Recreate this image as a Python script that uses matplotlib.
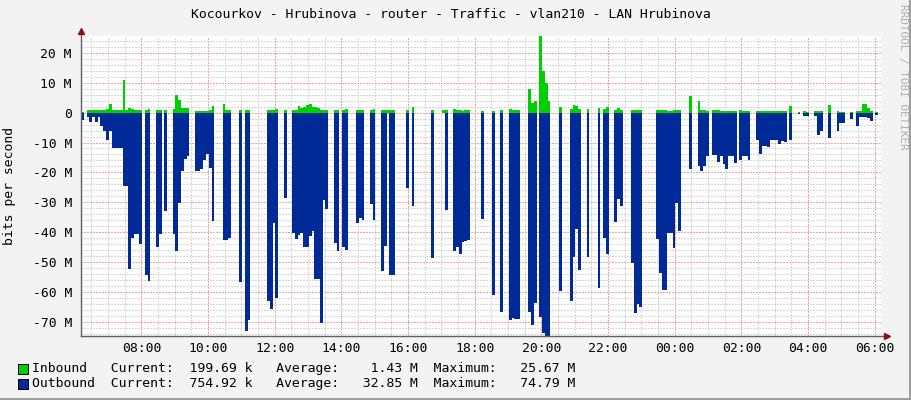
import numpy as np
import matplotlib
matplotlib.use("Agg")
import matplotlib.pyplot as plt
from matplotlib.patches import Rectangle
from matplotlib.lines import Line2D

# 5 minute samples, in Mbit/s, graph starts ~06:11 and covers 24 h
start_hour = 6.19
step_hours = 5 / 60.0

inbound = [
    0.2, None, 0.8, 0.8, 0.8, 0.8, 0.8, 0.8, 0.8, 1.2, 3.0, 1.0,
    1.0, 0.8, 0.8, 10.8, 1.0, 1.5, 1.2, 1.0, 1.0, 1.0, None, 1.0,
    1.3, None, None, 1.0, 1.0, None, 1.0, None, None, 1.3, 5.8, 4.1,
    1.6, 1.6, 1.6, None, None, 0.6, 0.6, 0.6, 0.4, 0.4, 1.0, 2.3,
    None, None, None, 3.0, 1.0, 1.0, None, None, None, 1.0, None, 1.0,
    1.0, None, None, None, None, None, None, 1.0, 1.0, 1.0, 1.3, None,
    None, 1.0, None, None, 1.0, 1.0, 2.3, 1.6, 2.0, 2.5, 3.0, 2.0,
    1.8, 1.5, 0.8, 0.8, 0.8, None, None, 1.0, 1.0, None, 1.0, 1.3,
    None, None, None, 1.0, 1.0, 1.0, None, None, 1.0, 1.3, None, None,
    1.0, 1.0, 1.0, 1.0, 1.0, None, None, None, None, 1.0, None, 2.0,
    None, None, None, None, None, None, 1.0, None, None, None, 1.0, 1.0,
    None, None, 1.3, 1.0, 1.0, 0.7, 1.0, 1.0, None, None, None, None,
    0.7, None, None, None, 0.7, None, None, 1.0, None, None, 1.3, 1.0,
    1.0, 1.0, None, None, None, 8.0, 3.4, 4.0, None, 25.67, 14.1, 10.0,
    4.0, None, None, None, 1.8, None, None, None, 1.3, 2.6, 2.2, 1.3,
    None, None, 1.3, None, None, None, 1.5, None, 1.3, 1.9, None, None,
    1.0, 1.6, 1.0, None, None, None, 1.0, 1.0, 1.0, 1.0, None, None,
    None, None, None, 1.0, 1.0, 1.0, 1.0, 0.7, 0.7, 1.0, 0.8, 0.8,
    None, None, None, 5.5, None, None, 4.0, 1.0, 0.8, 0.6, None, 0.8,
    0.8, 0.8, 0.5, 0.5, 0.5, 0.5, 0.5, 0.5, None, 0.8, 0.5, 0.5,
    0.5, None, None, 0.5, 0.5, 0.5, 0.5, 0.5, 0.5, 0.5, 0.5, 0.5,
    0.5, 0.5, None, 2.3, None, None, 0.2, None, 0.7, 0.3, None, None,
    0.5, 0.5, 0.5, None, None, 2.7, None, None, 0.4, 0.2, 0.2, None,
    None, 0.1, None, 0.5, 0.5, 3.0, 3.0, 1.5, 0.5, None, 0.2, None,
]

outbound = [
    -2.3, None, -1.5, -3.0, -1.5, -3.0, -1.5, -4.5, -6.0, -9.0, -6.0, -12.0,
    -12.0, -12.0, -12.0, -24.5, -24.5, -52.5, -42.0, -40.5, -40.5, -44.0, None, -54.4,
    -56.5, None, None, -44.9, -40.8, None, -32.8, None, None, -40.8, -46.3, -30.2,
    -19.5, -15.6, -14.5, None, None, -19.5, -19.5, -19.0, -16.0, -13.8, -18.5, -36.4,
    None, None, None, -42.8, -42.8, -42.0, None, None, None, -56.8, None, -73.2,
    -69.5, None, None, None, None, None, None, -63.2, -65.8, -36.8, -62.0, None,
    None, -28.6, None, None, -40.3, -42.4, -41.0, -40.3, -44.9, -44.9, -41.4, -39.7,
    -55.7, -55.7, -70.4, -29.3, -32.3, None, None, -43.7, -46.3, None, -44.9, -46.0,
    None, None, None, -36.9, -35.3, -36.0, None, None, -30.5, -36.1, None, None,
    -53.1, -44.8, 0.0, -54.2, -54.2, None, None, None, None, -25.2, None, -31.4,
    None, None, None, None, None, None, -48.8, None, None, None, 0.0, -32.5,
    None, None, -46.4, -45.0, -47.4, -43.2, -43.0, -42.8, None, None, None, None,
    -35.5, None, None, None, -61.0, None, None, -66.9, None, None, -69.3, -68.8,
    -69.0, -69.0, None, None, None, -66.9, -71.1, -63.7, None, -68.3, -73.8, -74.79,
    -74.79, None, None, None, -59.8, None, None, None, -63.2, -48.5, -38.8, -52.7,
    None, None, -48.5, None, None, None, -58.8, None, -42.1, -47.4, None, None,
    -36.7, -28.8, -31.2, None, None, None, -50.3, -67.1, -64.0, -65.0, None, None,
    None, None, None, -42.4, -53.7, -59.3, -59.3, -40.3, -40.3, -45.4, -30.1, -39.5,
    None, None, None, -18.9, None, None, -18.0, -19.6, -17.7, -14.6, None, -14.3,
    -14.3, -16.4, -14.4, -17.1, -18.9, -14.4, -14.4, -17.0, None, -15.9, -14.6, -14.6,
    -15.9, None, None, -9.0, -13.9, -11.3, -11.3, -11.5, -9.0, -9.0, -9.0, -10.5,
    -9.4, -9.9, None, -9.3, None, None, -0.6, None, -1.1, -1.1, None, None,
    -1.0, -7.4, -6.0, None, None, -8.6, None, None, -6.2, -3.3, -3.5, None,
    None, -2.2, None, -4.6, -1.6, -1.6, -1.6, -1.7, -2.7, None, -0.75, None,
]

y_ticks = [-70, -60, -50, -40, -30, -20, -10, 0, 10, 20]
x_ticks = [8, 10, 12, 14, 16, 18, 20, 22, 24, 26, 28, 30]

legend_rows = [
    ("#00CF00", "Inbound   Current:  199.69 k   Average:    1.43 M  Maximum:   25.67 M"),
    ("#002A97", "Outbound  Current:  754.92 k   Average:   32.85 M  Maximum:   74.79 M"),
]

title = "Kocourkov - Hrubinova - router - Traffic - vlan210 - LAN Hrubinova"

W, H = 911, 400
MONO = "DejaVu Sans Mono"
FS = 9.45

fig = plt.figure(figsize=(W / 100, H / 100), dpi=100, facecolor="#F3F3F3")
ax = fig.add_axes([81 / W, 64 / H, 800 / W, 300 / H])
ax.set_facecolor("white")

inb = np.array(inbound, dtype=float)
outb = np.array(outbound, dtype=float)
x = start_hour + np.arange(len(inb)) * step_hours

ax.bar(x, inb, width=step_hours, align="edge", color="#00CF00",
       linewidth=0, antialiased=False, zorder=3)
ax.bar(x, outb, width=step_hours, align="edge", color="#002A97",
       linewidth=0, antialiased=False, zorder=3)

ax.set_xlim(start_hour, start_hour + 24)
ax.set_ylim(-74.79, 25.67)

ax.set_yticks(y_ticks)
ax.set_yticklabels([f"{v} M" if v else "0" for v in y_ticks])
ax.set_yticks(np.arange(-74, 26, 2), minor=True)
ax.set_xticks(x_ticks)
ax.set_xticklabels([f"{h % 24:02d}:00" for h in x_ticks])
ax.set_xticks(np.arange(6.5, 30.3, 0.5), minor=True)

ax.grid(which="minor", color="#C8C8C8", linestyle=(0, (1.4, 1.4)),
        linewidth=0.72, alpha=0.7, antialiased=False, zorder=1)
ax.grid(which="major", color="#EE9090", linestyle=(0, (1.4, 1.4)),
        linewidth=0.72, alpha=0.8, antialiased=False, zorder=2)
ax.set_axisbelow(True)

ax.tick_params(which="both", length=0)
ax.tick_params(axis="x", pad=4)
ax.tick_params(axis="y", pad=6.5)
for lab in ax.get_xticklabels() + ax.get_yticklabels():
    lab.set_fontfamily(MONO)
    lab.set_fontsize(FS)
    lab.set_color("#000000")

for s in ax.spines.values():
    s.set_visible(False)

axis_col = "#606060"
ax.plot([0, 0], [0, 1.012], transform=ax.transAxes, color=axis_col,
        lw=1, clip_on=False, zorder=5)
ax.plot([0, 1.008], [0, 0], transform=ax.transAxes, color=axis_col,
        lw=1, clip_on=False, zorder=5)
ax.plot([0], [1.016], transform=ax.transAxes, marker="^", ms=5,
        color="#8B1010", clip_on=False, zorder=6)
ax.plot([1.007], [0], transform=ax.transAxes, marker=">", ms=5,
        color="#8B1010", clip_on=False, zorder=6)

fig.text(451 / W, 1 - 14 / H, title, family=MONO, size=FS,
         ha="center", va="center")
fig.text(10 / W, 1 - 186 / H, "bits per second", family=MONO, size=FS,
         rotation=90, ha="center", va="center")
fig.text(903 / W, 1 - 4 / H, "RRDTOOL / TOBI OETIKER", family=MONO, size=7.9,
         rotation=270, ha="center", va="top", color="#B0B0B0")

for i, (col, txt) in enumerate(legend_rows):
    yc = 368.5 + 15 * i
    fig.add_artist(Rectangle((17.5 / W, 1 - (yc + 5) / H), 10 / W, 10 / H,
                             transform=fig.transFigure, facecolor=col,
                             edgecolor="black", linewidth=0.72))
    fig.text(32.5 / W, 1 - yc / H, txt, family=MONO, size=FS,
             ha="left", va="center")

# 3d frame of the canvas
fig.add_artist(Line2D([0, 1], [1 - 398.5 / H] * 2, transform=fig.transFigure,
                      color="#9C9C9C", lw=1.4))
fig.add_artist(Line2D([909.5 / W] * 2, [0, 1], transform=fig.transFigure,
                      color="#9C9C9C", lw=1.4))

fig.savefig("out.png", dpi=100, facecolor=fig.get_facecolor())
